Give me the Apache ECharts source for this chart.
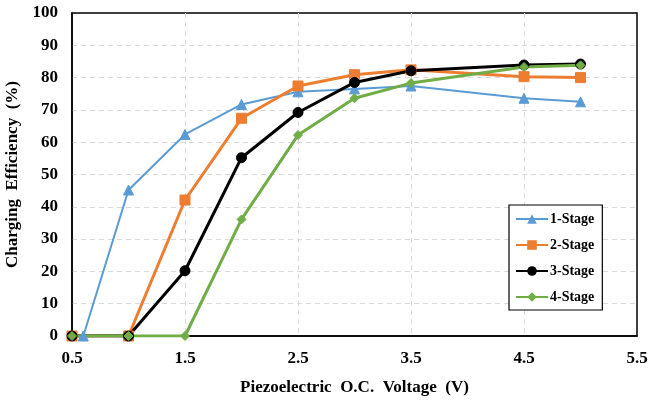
<!DOCTYPE html>
<html>
<head>
<meta charset="utf-8">
<script src="https://cdn.jsdelivr.net/npm/echarts@6/dist/echarts.min.js"></script>
<style>
  html, body { margin: 0; padding: 0; background: #fff; }
  #chart { width: 650px; height: 403px; }
</style>
</head>
<body>
<div id="chart"></div>
<script>
// values
const xTicks = [0.5, 1.5, 2.5, 3.5, 4.5, 5.5];
const stage1X = [0.6, 1.0, 1.5, 2.0, 2.5, 3.0, 3.5, 4.5, 5.0];
const stage1 = [0, 45.2, 62.4, 71.7, 75.6, 76.5, 77.4, 73.6, 72.5];
const stageX = [0.5, 1.0, 1.5, 2.0, 2.5, 3.0, 3.5, 4.5, 5.0];
const stage2 = [0, 0, 42.1, 67.4, 77.4, 80.9, 82.4, 80.3, 80.0];
const stage3 = [0, 0, 20.2, 55.2, 69.2, 78.5, 82.1, 83.9, 84.2];
const stage4 = [0, 0, 0, 36.1, 62.2, 73.6, 78.3, 83.3, 83.8];

const pair = (xs, ys) => xs.map((x, i) => [x, ys[i]]);
const font = 'Liberation Serif';
const grid = { lineStyle: { color: '#d9d9d9', type: [5, 4], width: 1 } };

const chart = echarts.init(document.getElementById('chart'), null, { renderer: 'canvas' });

function line(name, xs, ys, color, symbol, size, width) {
  return {
    name, type: 'line', data: pair(xs, ys),
    symbol, symbolSize: size,
    lineStyle: { color, width },
    itemStyle: { color, borderColor: color },
    animation: false
  };
}

chart.setOption({
  backgroundColor: '#fff',
  grid: { left: 72, right: 13, top: 13, bottom: 67, outerBoundsMode: 'none',
    show: true, borderColor: '#000', borderWidth: 1.5 },
  legend: {
    orient: 'vertical', left: 509, top: 205,
    backgroundColor: '#fff', borderColor: '#000', borderWidth: 1.2,
    padding: [7, 8, 6, 6], itemGap: 12, itemWidth: 32, itemHeight: 12,
    textStyle: { fontFamily: font, fontWeight: 'bold', fontSize: 14, color: '#000', padding: [0, 0, 0, -3] },
    data: ['1-Stage', '2-Stage', '3-Stage', '4-Stage']
  },
  xAxis: {
    type: 'value', min: 0.5, max: 5.5,
    name: 'Piezoelectric  O.C.  Voltage  (V)', nameLocation: 'middle', nameGap: 43,
    nameTextStyle: { fontFamily: font, fontWeight: 'bold', fontSize: 17, color: '#000' },
    axisLine: { lineStyle: { color: '#000', width: 1.5 } },
    axisTick: { show: false, customValues: xTicks },
    axisLabel: { customValues: xTicks, margin: 14, fontFamily: font, fontWeight: 'bold', fontSize: 17, color: '#000',
      formatter: v => v.toFixed(1) },
    splitLine: Object.assign({ show: true, showMinLine: false, showMaxLine: false }, grid)
  },
  yAxis: {
    type: 'value', min: 0, max: 100, interval: 10,
    name: 'Charging  Efficiency  (%)', nameLocation: 'middle', nameGap: 43,
    nameTextStyle: { fontFamily: font, fontWeight: 'bold', fontSize: 17, color: '#000' },
    axisLine: { show: true, lineStyle: { color: '#000', width: 1.5 } },
    axisTick: { show: false },
    axisLabel: { margin: 14, fontFamily: font, fontWeight: 'bold', fontSize: 17, color: '#000' },
    splitLine: Object.assign({ show: true, showMinLine: false, showMaxLine: false }, grid)
  },
  series: [
    line('1-Stage', stage1X, stage1, '#5B9BD5', 'triangle', 10, 2),
    line('2-Stage', stageX, stage2, '#ED7D31', 'rect', 10, 3),
    line('3-Stage', stageX, stage3, '#000000', 'circle', 10, 3),
    line('4-Stage', stageX, stage4, '#70AD47', 'diamond', 9, 3)
  ]
});
</script>
</body>
</html>
